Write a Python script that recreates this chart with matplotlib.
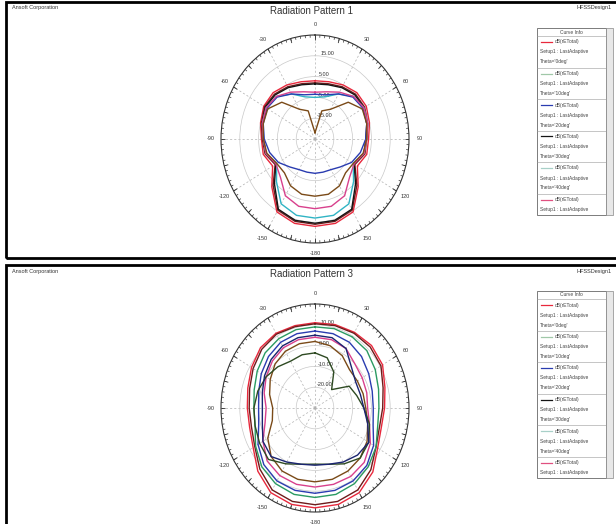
import numpy as np
import matplotlib
matplotlib.use('Agg')
import matplotlib.pyplot as plt
from matplotlib.patches import Rectangle
from matplotlib.lines import Line2D

plt.rcParams['font.family'] = ['Liberation Sans', 'DejaVu Sans']

W, H = 616, 524

# angles of the sampled points, degrees clockwise from top
angles = [0, 15, 30, 45, 60, 75, 90, 105, 120, 135, 150, 165,
          180, 195, 210, 225, 240, 255, 270, 285, 300, 315, 330, 345]

# ---- Radiation Pattern 1 (dB) ----
p1_range = (-25, 25)
p1_rings = [15, 5, -5, -15]
p1_curves = {
    'red':    [3, 3.5, 5, 6.5, 6.5, 5, 3.5, 3.5, 1, 7.5, 15.5, 17, 17, 17, 15.5, 7.5, 1, 3.5, 3.5, 5, 6.5, 6.5, 5, 3.5],
    'maroon': [2, 2.5, 4, 5.5, 5.5, 4, 2.5, 2.5, -0.5, 6.5, 14.5, 16, 16, 16, 14.5, 6.5, -0.5, 2.5, 3, 4.5, 6, 5.5, 4, 2.5],
    'black':  [1.5, 2, 3.5, 5, 5, 3.5, 2, 2, -1, 5.5, 14, 15.5, 15.5, 15.5, 14, 5.5, -1, 2, 2.5, 4, 5.5, 5, 3.5, 2],
    'cyan':   [-5, -4, 0, 4, 5, 4, 2.5, 2, -1.5, 4, 11, 13, 13, 13, 11, 4, -1.5, 2, 2.5, 4, 5, 4, 0, -4],
    'blue':   [-3.5, -3, 0, 3.5, 4.5, 3.5, 2, 0, -2.5, -6, -8, -8.5, -8.5, -8.5, -8, -6, -2.5, 0, 2, 3.5, 4.5, 3.5, 0, -3],
    'pink':   [-2.5, -1.5, 1, 4, 5, 4, 2.5, 2, -1, 1, 6.5, 8.5, 8.5, 8.5, 6.5, 1, -1, 2, 2.5, 4, 5, 4, 1, -1.5],
    'brown':  [-22, -11, -8.5, 0, 4, 3.5, 2.5, 1.5, -1.5, -2, 1, 2.5, 2.5, 2.5, 1, -2, -1.5, 1.5, 2.5, 3.5, 4, 0, -8.5, -11],
}

# ---- Radiation Pattern 3 (dB) ----
p3_range = (-30, 20)
p3_rings = [10, 0, -10, -20]
p3_curves = {
    'red':    [11, 11.5, 12, 12.5, 11.5, 8.5, 7, 6.5, 8.5, 13.5, 17, 18, 18, 18, 17, 13, 8, 6, 6, 7, 9, 11, 11.5, 11],
    'maroon': [10.5, 11, 11.5, 11.5, 10.5, 7.5, 6, 5.5, 7.5, 12, 15.5, 16.5, 16.5, 16.5, 15.5, 11.5, 7, 5, 5, 6, 8, 10, 11, 10.5],
    'green':  [9, 9.5, 9.5, 9, 7, 5, 4, 4.5, 7.5, 10, 12, 13, 13, 13, 12, 10, 6.5, 3, 2.5, 3.5, 5.5, 7.5, 8.5, 9],
    'blue':   [7, 7, 6.5, 5, 3, 1.5, 1, 2, 6, 9, 10.5, 11, 11, 11, 10.5, 8.5, 5, 1, 0, 1, 3, 5, 6.5, 7],
    'pink':   [4, 4, 3, 0, -1, -1.5, -2, 0, 4, 7, 8, 8, 8, 8, 7.5, 6, 2, -2.5, -4, -2, 0, 2, 3.5, 4],
    'brown':  [2, 1, -1, -4, -4, -3.5, -3, -1, 2, 4, 5, 5.5, 5.5, 5.5, 5, 3, -1, -6.5, -7.5, -5, -2.5, 0, 1.5, 2],
    'dkgreen': [-3.5, -5, -10, -17.5, -9, -7, -4, 0, 3, 4, 1, -2, -3, -2, 1, 5, 4, 3, 2.5, 1.5, 0, -2, -4, -3.5],
    'navy':   [5, 5, 3, -2.5, -5, -5, -4, -1, 3, 2, 0, -2, -2.5, -2, 0, 3, 2, -1, -2, -1, 1, 3, 4.5, 5],
}

colors = {'red': '#e8283c', 'maroon': '#6e1a1a', 'black': '#141414', 'cyan': '#30b4c4',
          'blue': '#2a3cb0', 'pink': '#d8408c', 'brown': '#7a4a18', 'green': '#2a9a62',
          'dkgreen': '#2e4a22', 'navy': '#1a2470'}

tick_angles = [0, 30, 60, 90, 120, 150, 180, 210, 240, 270, 300, 330]
tick_labels = ['0', '30', '60', '90', '120', '150', '-180', '-150', '-120', '-90', '-60', '-30']

legend_colors = ['#e8283c', '#a0c8a8', '#2a3cb0', '#141414', '#a8d0c8', '#e05080']
legend_phis = ['0deg', '10deg', '20deg', '30deg', '40deg', '50deg']

fig = plt.figure(figsize=(W / 100, H / 100), dpi=100)


def fx(px):
    return px / W


def fy(py):
    return 1 - py / H


def draw_panel(top, title, curves, rng, rings, frame_h, ax_bottom):
    # frame
    fig.add_artist(Rectangle((fx(6), fy(top + frame_h)), fx(620), frame_h / H, fill=False,
                             ec='black', lw=2, transform=fig.transFigure))
    fig.text(fx(12), fy(top + 6), 'Ansoft Corporation', fontsize=4, color='#333333', va='center')
    fig.text(fx(311), fy(top + 9), title, fontsize=7, color='#333333', ha='center', va='center')
    fig.text(fx(612), fy(top + 6), 'HFSSDesign1', fontsize=4, color='#333333', ha='right', va='center')

    ax = fig.add_axes([fx(221), fy(ax_bottom), fx(188), 208 / H], projection='polar')
    ax.set_aspect('auto')
    ax.set_theta_zero_location('N')
    ax.set_theta_direction(-1)
    ax.set_rlim(rng[0], rng[1])
    ax.set_thetagrids(tick_angles, tick_labels, fontsize=4, color='#333333')
    ax.tick_params(axis='x', pad=0.5, size=0)
    ax.set_rgrids(rings, ['%.2f' % r for r in rings], angle=4, fontsize=4, color='#333333')
    ax.grid(True, color='#c8c8c8', lw=0.5, ls='-')
    ax.xaxis.grid(True, color='#b0b0b0', lw=0.5, ls=(0, (3, 3)))
    ax.spines['polar'].set_color('#333333')
    ax.spines['polar'].set_linewidth(0.8)
    # ticks on the outer ring
    span = rng[1] - rng[0]
    t = np.deg2rad(np.arange(0, 360, 3))
    ax.vlines(t, rng[1] - span * 0.025, rng[1], color='#333333', lw=0.5)
    t = np.deg2rad(np.arange(0, 360, 15))
    ax.vlines(t, rng[1] - span * 0.045, rng[1], color='#333333', lw=0.6)

    th = np.deg2rad(angles + [360])
    for name, vals in curves.items():
        ax.plot(th, vals + [vals[0]], color=colors[name], lw=1.0)
    ax.set_rlim(rng[0], rng[1])

    # curve info box
    x0, x1 = 537, 606
    y0 = top + 26
    fig.add_artist(Rectangle((fx(x0), fy(top + 213)), fx(x1 - x0), 187 / H, fill=False,
                             ec='#666666', lw=0.6, transform=fig.transFigure))
    fig.add_artist(Rectangle((fx(x1), fy(top + 213)), fx(7), 187 / H, fill=True,
                             fc='#e8e8e8', ec='#888888', lw=0.5, transform=fig.transFigure))
    fig.text(fx((x0 + x1) / 2), fy(y0 + 4), 'Curve Info', fontsize=3.5, color='#444444',
             ha='center', va='center')
    for i, (c, p) in enumerate(zip(legend_colors, legend_phis)):
        ys = y0 + 8 + i * 31.5
        fig.add_artist(Line2D([fx(x0), fx(x1)], [fy(ys), fy(ys)], color='#999999', lw=0.4))
        fig.add_artist(Line2D([fx(x0 + 4), fx(x0 + 15)], [fy(ys + 6), fy(ys + 6)], color=c, lw=0.9))
        fig.text(fx(x0 + 18), fy(ys + 6), 'dB(rETotal)', fontsize=3.5, color='#444444', va='center')
        fig.text(fx(x0 + 3), fy(ys + 16), 'Setup1 : LastAdaptive', fontsize=3.5, color='#444444', va='center')
        if i < 5:
            fig.text(fx(x0 + 3), fy(ys + 26), "Theta='%s'" % p, fontsize=3.5, color='#444444', va='center')
    return ax


draw_panel(2, 'Radiation Pattern 1', p1_curves, p1_range, p1_rings, 256, 243)
draw_panel(265, 'Radiation Pattern 3', p3_curves, p3_range, p3_rings, 300, 512)

fig.savefig('out.png', dpi=100)
